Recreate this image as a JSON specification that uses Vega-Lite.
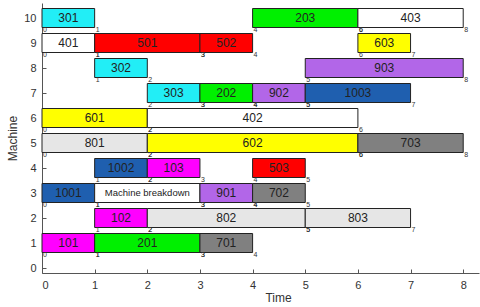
{
  "$schema": "https://vega.github.io/schema/vega-lite/v6.json",
  "autosize": "none",
  "width": 437,
  "height": 270,
  "padding": {"left": 42, "top": 3, "right": 1, "bottom": 34},
  "background": "white",
  "config": {
    "view": {"stroke": null},
    "font": "Liberation Sans",
    "axis": {"grid": false, "domainColor": "#555", "tickColor": "#555", "labelColor": "#333", "titleColor": "#333", "labelFont": "Liberation Sans", "titleFont": "Liberation Sans", "labelFontSize": 11, "titleFontSize": 12, "titleFontWeight": "normal"}
  },
  "data": {"values": [
    {"machine": 10, "op": "301", "job": "3", "start": 0, "end": 1},
    {"machine": 10, "op": "203", "job": "2", "start": 4, "end": 6},
    {"machine": 10, "op": "403", "job": "4", "start": 6, "end": 8},
    {"machine": 9, "op": "401", "job": "4", "start": 0, "end": 1},
    {"machine": 9, "op": "501", "job": "5", "start": 1, "end": 3},
    {"machine": 9, "op": "502", "job": "5", "start": 3, "end": 4},
    {"machine": 9, "op": "603", "job": "6", "start": 6, "end": 7},
    {"machine": 8, "op": "302", "job": "3", "start": 1, "end": 2},
    {"machine": 8, "op": "903", "job": "9", "start": 5, "end": 8},
    {"machine": 7, "op": "303", "job": "3", "start": 2, "end": 3},
    {"machine": 7, "op": "202", "job": "2", "start": 3, "end": 4},
    {"machine": 7, "op": "902", "job": "9", "start": 4, "end": 5},
    {"machine": 7, "op": "1003", "job": "10", "start": 5, "end": 7},
    {"machine": 6, "op": "601", "job": "6", "start": 0, "end": 2},
    {"machine": 6, "op": "402", "job": "4", "start": 2, "end": 6},
    {"machine": 5, "op": "801", "job": "8", "start": 0, "end": 2},
    {"machine": 5, "op": "602", "job": "6", "start": 2, "end": 6},
    {"machine": 5, "op": "703", "job": "7", "start": 6, "end": 8},
    {"machine": 4, "op": "1002", "job": "10", "start": 1, "end": 2},
    {"machine": 4, "op": "103", "job": "1", "start": 2, "end": 3},
    {"machine": 4, "op": "503", "job": "5", "start": 4, "end": 5},
    {"machine": 3, "op": "1001", "job": "10", "start": 0, "end": 1},
    {"machine": 3, "op": "Machine breakdown", "job": "breakdown", "start": 1, "end": 3},
    {"machine": 3, "op": "901", "job": "9", "start": 3, "end": 4},
    {"machine": 3, "op": "702", "job": "7", "start": 4, "end": 5},
    {"machine": 2, "op": "102", "job": "1", "start": 1, "end": 2},
    {"machine": 2, "op": "802", "job": "8", "start": 2, "end": 5},
    {"machine": 2, "op": "803", "job": "8", "start": 5, "end": 7},
    {"machine": 1, "op": "101", "job": "1", "start": 0, "end": 1},
    {"machine": 1, "op": "201", "job": "2", "start": 1, "end": 3},
    {"machine": 1, "op": "701", "job": "7", "start": 3, "end": 4}
  ]},
  "encoding": {
    "y": {"field": "machine", "type": "quantitative", "title": "Machine",
      "scale": {"domain": [0, 10.4], "nice": false, "zero": false},
      "axis": {"values": [0,1,2,3,4,5,6,7,8,9,10], "tickSize": -4, "labelPadding": 10, "titlePadding": 4}}
  },
  "layer": [
    {
      "mark": {"type": "bar", "height": 19, "stroke": "#222", "strokeWidth": 1},
      "encoding": {
        "x": {"field": "start", "type": "quantitative", "title": "Time",
          "scale": {"domain": [0, 8.3], "nice": false, "zero": false},
          "axis": {"values": [0,1,2,3,4,5,6,7,8], "tickSize": -4, "labelPadding": 10, "titlePadding": 2, "titleX": 236}},
        "x2": {"field": "end"},
        "color": {"field": "job", "type": "nominal", "legend": null,
          "scale": {"domain": ["1","2","3","4","5","6","7","8","9","10","breakdown"],
            "range": ["#FF00FF","#00F000","#22EEF6","#FFFFFF","#FF0000","#FFFF00","#808080","#E6E6E6","#B266E8","#1F5FAF","#FFFFFF"]}}
      }
    },
    {
      "transform": [
        {"fold": ["start", "end"], "as": ["edge", "t"]},
        {"aggregate": [{"op": "mean", "field": "t", "as": "mid"}], "groupby": ["machine", "op", "job"]}
      ],
      "layer": [
        {
          "transform": [{"filter": "datum.job != 'breakdown'"}],
          "mark": {"type": "text", "fontSize": 12, "color": "#222", "align": "center", "baseline": "middle"},
          "encoding": {
            "x": {"field": "mid", "type": "quantitative"},
            "text": {"field": "op"}
          }
        },
        {
          "transform": [{"filter": "datum.job == 'breakdown'"}],
          "mark": {"type": "text", "fontSize": 9.5, "color": "#222", "align": "center", "baseline": "middle"},
          "encoding": {
            "x": {"field": "mid", "type": "quantitative"},
            "text": {"field": "op"}
          }
        }
      ]
    },
    {
      "mark": {"type": "text", "fontSize": 7, "color": "#333", "align": "left", "baseline": "middle", "dx": 1, "dy": 12},
      "encoding": {
        "x": {"field": "start", "type": "quantitative"},
        "text": {"field": "start", "type": "quantitative"}
      }
    },
    {
      "mark": {"type": "text", "fontSize": 7, "color": "#333", "align": "left", "baseline": "middle", "dx": 1, "dy": 12},
      "encoding": {
        "x": {"field": "end", "type": "quantitative"},
        "text": {"field": "end", "type": "quantitative"}
      }
    }
  ]
}
